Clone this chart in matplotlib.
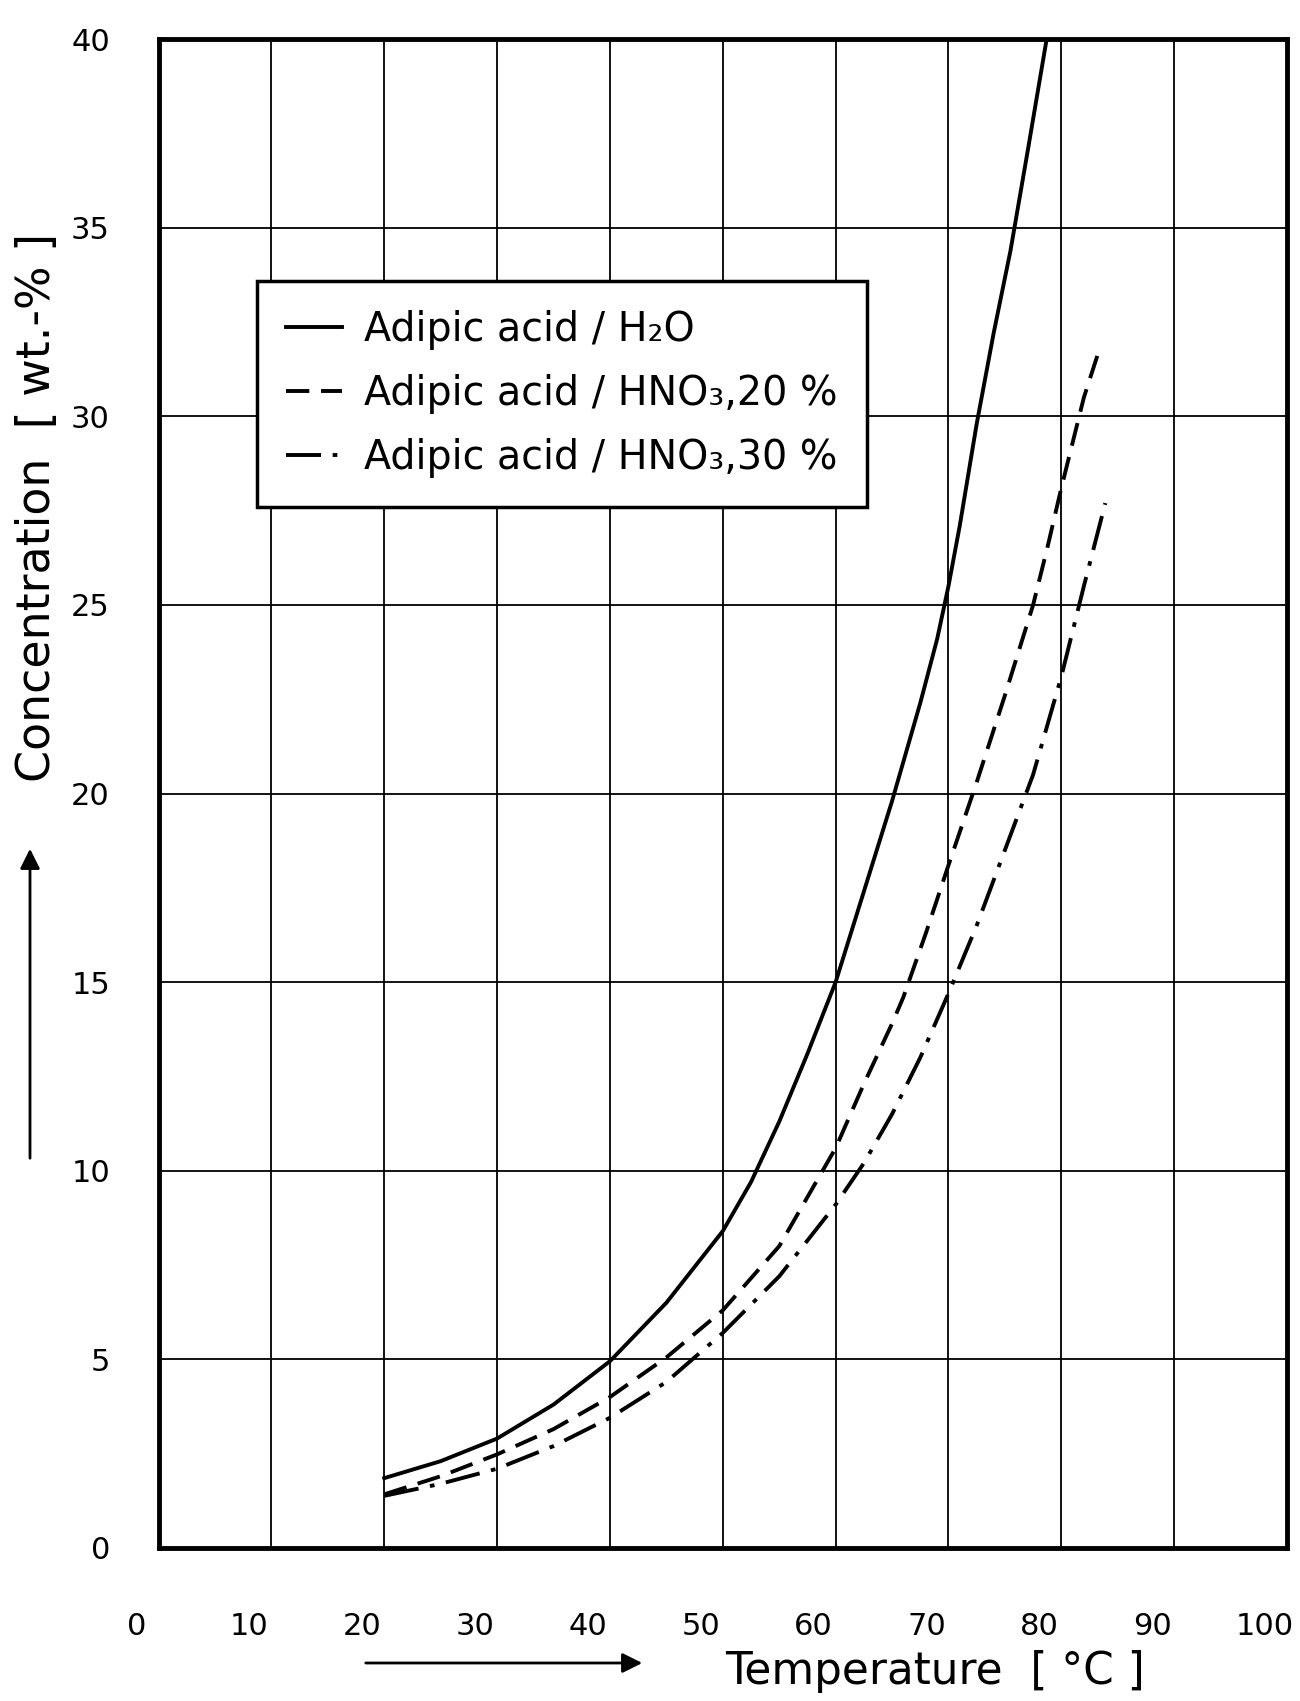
import matplotlib.pyplot as plt
from matplotlib.transforms import ScaledTranslation

# Adipic acid solubility curves
temp_h2o = [20, 25, 30, 35, 40, 45, 50, 52.5, 55, 57.5, 60, 62.5, 65, 67.5, 69, 70, 71, 72.5, 74, 75.5, 77, 78.7]
conc_h2o = [1.85, 2.3, 2.9, 3.8, 4.95, 6.5, 8.4, 9.7, 11.3, 13.1, 15.0, 17.4, 19.8, 22.4, 24.1, 25.5, 27.1, 29.8, 32.2, 34.4, 37.0, 40.0]

temp_hno3_20 = [20, 25, 30, 35, 40, 45, 50, 55, 60, 62.5, 65, 66, 68, 70, 72.5, 75, 77.5, 78.75, 80, 82, 83.4]
conc_hno3_20 = [1.42, 1.9, 2.48, 3.15, 4.0, 5.05, 6.3, 8.0, 10.6, 12.3, 13.9, 14.6, 16.3, 18.1, 20.3, 22.6, 25.0, 26.5, 28.1, 30.5, 31.8]

temp_hno3_30 = [20, 25, 30, 35, 40, 45, 50, 55, 60, 62.5, 65, 67.5, 70, 72.5, 75, 77.5, 80, 82, 83.9]
conc_hno3_30 = [1.38, 1.7, 2.1, 2.7, 3.45, 4.4, 5.7, 7.2, 9.1, 10.2, 11.5, 13.0, 14.7, 16.5, 18.5, 20.5, 23.1, 25.5, 27.7]

labels = ["Adipic acid / H₂O", "Adipic acid / HNO₃,20 %", "Adipic acid / HNO₃,30 %"]

x_ticks = list(range(0, 101, 10))
y_ticks = list(range(0, 41, 5))

plt.rcParams["font.family"] = ["DejaVu Sans"]

fig = plt.figure(figsize=(13, 17.01), dpi=100)
fig.patch.set_facecolor("white")
ax = fig.add_axes([0.122, 0.090, 0.868, 0.887])

ax.plot(temp_h2o, conc_h2o, color="black", lw=2.8, label=labels[0], zorder=3)
ax.plot(temp_hno3_20, conc_hno3_20, color="black", lw=2.8, dashes=(6, 3),
        label=labels[1], zorder=3)
ax.plot(temp_hno3_30, conc_hno3_30, color="black", lw=2.8, dashes=(9, 3, 1.2, 3),
        label=labels[2], zorder=3)

ax.set_xlim(0, 100)
ax.set_ylim(0, 40)
ax.set_xticks(x_ticks)
ax.set_yticks(y_ticks)
ax.grid(True, color="black", lw=1.3)
ax.set_axisbelow(True)

ax.tick_params(axis="both", length=0, labelsize=22, colors="black")
ax.tick_params(axis="y", pad=35)
ax.tick_params(axis="x", pad=46)

# the scanned x labels sit a little left of their grid lines
shift = ScaledTranslation(-0.22, 0, fig.dpi_scale_trans)
for lab in ax.get_xticklabels():
    lab.set_transform(lab.get_transform() + shift)

for spine in ax.spines.values():
    spine.set_linewidth(3.5)
    spine.set_color("black")

leg = ax.legend(loc="upper left", bbox_to_anchor=(0.087, 0.840), borderaxespad=0,
                fontsize=28.5, frameon=True, fancybox=False, framealpha=1,
                edgecolor="black", handlelength=1.4, handletextpad=0.55,
                labelspacing=0.6, borderpad=0.75)
leg.get_frame().set_linewidth(2.5)
leg.set_zorder(5)

# axis titles and the hand-drawn arrows
fig.text(38 / 1300, 1 - 507 / 1701, "Concentration  [ wt.-% ]", rotation=90,
         fontsize=33, ha="center", va="center")
fig.text(935 / 1300, 1 - 1671 / 1701, "Temperature  [ °C ]",
         fontsize=31.5, ha="center", va="center")

ax.annotate("", xy=(30 / 1300, 1 - 846 / 1701), xytext=(30 / 1300, 1 - 1161 / 1701),
            xycoords="figure fraction", textcoords="figure fraction",
            arrowprops=dict(arrowstyle="-|>", lw=2, color="black", mutation_scale=30))
ax.annotate("", xy=(645 / 1300, 1 - 1663 / 1701), xytext=(363 / 1300, 1 - 1663 / 1701),
            xycoords="figure fraction", textcoords="figure fraction",
            arrowprops=dict(arrowstyle="-|>", lw=2, color="black", mutation_scale=30))

plt.savefig("out.png", dpi=100)
